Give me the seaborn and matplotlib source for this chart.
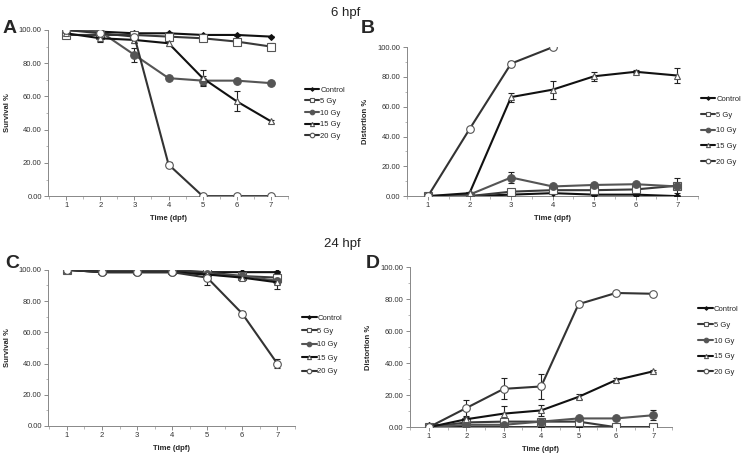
import numpy as np
import pandas as pd
import matplotlib.pyplot as plt
import seaborn as sns

days = [1, 2, 3, 4, 5, 6, 7]
groups = ['Control', '5 Gy', '10 Gy', '15 Gy', '20 Gy']

# A: survival, 6 hpf
surv6 = {
    'Control': [100, 99, 98, 98, 97, 97, 96],
    '5 Gy': [97, 97, 97, 96, 95, 93, 90],
    '10 Gy': [100, 99, 85, 71, 69.5, 69.5, 68],
    '15 Gy': [98, 95, 94, 92, 71, 57, 45],
    '20 Gy': [100, 98, 96, 19, 0, 0, 0],
}
surv6_err = {
    'Control': [0, 0, 1, 1, 0.5, 0.5, 0.5],
    '5 Gy': [0, 1, 1, 1, 1, 1.5, 2],
    '10 Gy': [0, 0.5, 4, 1, 2.5, 1, 1],
    '15 Gy': [0, 2, 2, 1.5, 5, 6, 1],
    '20 Gy': [0, 1, 1, 1.5, 0, 0, 0],
}
# B: distortion, 6 hpf
dist6 = {
    'Control': [0, 0, 1, 2, 1, 1, 0],
    '5 Gy': [0, 0, 3, 4, 4, 4.5, 7],
    '10 Gy': [0, 1, 12.5, 6.5, 7.5, 8, 6.5],
    '15 Gy': [0, 2, 66.5, 71.5, 80.5, 83.5, 81],
    '20 Gy': [0, 45, 89, 100, np.nan, np.nan, np.nan],
}
dist6_err = {
    'Control': [0, 0, 0.5, 0.5, 0.5, 0.5, 0.5],
    '5 Gy': [0, 0, 1, 1, 1, 1, 5],
    '10 Gy': [0, 0.5, 3.5, 1, 1, 1, 1],
    '15 Gy': [0, 1, 3, 6, 3, 1, 5],
    '20 Gy': [0, 1, 1.5, 0.5, 0, 0, 0],
}
# C: survival, 24 hpf
surv24 = {
    'Control': [100, 99, 99, 99, 98.5, 98.5, 98.5],
    '5 Gy': [100, 100, 100, 100, 98.5, 96, 95],
    '10 Gy': [100, 98.5, 98.5, 98.5, 97, 96, 93],
    '15 Gy': [100, 98.5, 98.5, 98.5, 97, 95, 92],
    '20 Gy': [100, 98.5, 98.5, 98.5, 95, 72, 40],
}
surv24_err = {
    'Control': [0, 0.5, 0.5, 0.5, 0.5, 0.5, 0.5],
    '5 Gy': [0, 0, 0, 0, 1, 1, 1],
    '10 Gy': [0, 1, 1, 1, 1, 1, 2],
    '15 Gy': [0, 1, 1, 1, 1.5, 1.5, 4],
    '20 Gy': [0, 1, 1, 1, 5, 1.5, 3],
}
# D: distortion, 24 hpf
dist24 = {
    'Control': [1.5, 0, 0, 0, 0, 0, 0],
    '5 Gy': [0, 3, 3.5, 3.5, 3.5, 0, 0],
    '10 Gy': [0, 1.5, 1.5, 3.5, 5.5, 5.5, 7.5],
    '15 Gy': [0, 5, 8.5, 10.5, 19, 29.5, 35],
    '20 Gy': [0, 12, 24, 25.5, 77, 84, 83.5],
}
dist24_err = {
    'Control': [0.5, 0, 0, 0, 0, 0, 0],
    '5 Gy': [0, 1, 1, 1, 1, 0, 0],
    '10 Gy': [0, 1, 1, 1, 1, 1, 3],
    '15 Gy': [0, 1.5, 5, 3.5, 1.5, 1.5, 0.5],
    '20 Gy': [0, 5, 6.5, 8, 0.5, 0.5, 0.5],
}

styles = {
    'Control': dict(color='#111111', marker='D', mfc='#111111', mec='#111111', ms=3),
    '5 Gy': dict(color='#3a3a3a', marker='s', mfc='white', mec='#555555', ms=5.5),
    '10 Gy': dict(color='#555555', marker='o', mfc='#555555', mec='#555555', ms=5.5),
    '15 Gy': dict(color='#111111', marker='^', mfc='white', mec='#555555', ms=5),
    '20 Gy': dict(color='#333333', marker='o', mfc='white', mec='#555555', ms=5.5),
}

sns.set_style('ticks')
plt.rcParams['font.family'] = ['Liberation Sans', 'DejaVu Sans']

fig = plt.figure(figsize=(7.41, 4.54), dpi=100)


def panel(rect, data, err, ylabel, xlim, letter, letter_pos, leg_x, leg_y, leg_sp):
    ax = fig.add_axes(rect)
    rows = []
    for g in groups:
        for d, v, e in zip(days, data[g], err[g]):
            rows.append({'day': d, 'value': v, 'err': e, 'group': g})
    df = pd.DataFrame(rows)
    for g in groups:
        sub = df[df['group'] == g]
        st = styles[g]
        ax.errorbar(sub['day'], sub['value'], yerr=sub['err'], fmt='none',
                    ecolor='#222222', elinewidth=0.8, capsize=2, capthick=0.8, zorder=2)
        sns.lineplot(data=sub, x='day', y='value', ax=ax, color=st['color'], lw=1.5,
                     marker=st['marker'], markersize=st['ms'], markerfacecolor=st['mfc'],
                     markeredgecolor=st['mec'], markeredgewidth=0.8, label=g,
                     errorbar=None, zorder=3)
    ax.set_xlim(*xlim)
    ax.set_ylim(0, 100)
    ax.set_xticks(days)
    ax.set_xticks(np.arange(0.5, 7.6, 0.5), minor=True)
    ax.set_yticks(np.arange(0, 101, 20))
    ax.set_yticks(np.arange(0, 101, 10), minor=True)
    ax.set_yticklabels([f'{v:.2f}' for v in range(0, 101, 20)])
    ax.tick_params(axis='both', which='major', labelsize=5.5, length=3, width=0.6,
                   color='#777777', labelcolor='#333333', pad=1.5)
    ax.tick_params(axis='both', which='minor', length=1.8, width=0.5, color='#999999')
    for s in ['top', 'right']:
        ax.spines[s].set_visible(False)
    for s in ['left', 'bottom']:
        ax.spines[s].set_color('#888888')
        ax.spines[s].set_linewidth(0.7)
    ax.set_xlabel('Time (dpf)', fontsize=5.5, fontweight='bold', labelpad=4)
    ax.set_ylabel(ylabel, fontsize=5.5, fontweight='bold', labelpad=6)
    ax.legend(loc='center left', bbox_to_anchor=(leg_x, leg_y), frameon=False,
              fontsize=5.5, handlelength=1.9, handletextpad=0.1, labelspacing=leg_sp,
              borderpad=0, borderaxespad=0, markerscale=0.6)
    fig.text(letter_pos[0], letter_pos[1], letter, fontsize=14, fontweight='bold',
             ha='left', va='center')
    return ax


panel([0.0648, 0.568, 0.324, 0.366], surv6, surv6_err, 'Survival %', (0.47, 7.14),
      'A', (0.004, 0.938), 1.07, 0.5, 0.55)
panel([0.549, 0.568, 0.393, 0.328], dist6, dist6_err, 'Distortion %', (0.49, 7.5),
      'B', (0.487, 0.938), 1.01, 0.44, 1.1)
panel([0.0648, 0.0617, 0.333, 0.344], surv24, surv24_err, 'Survival %', (0.46, 7.48),
      'C', (0.007, 0.42), 1.03, 0.52, 0.8)
panel([0.553, 0.059, 0.354, 0.352], dist24, dist24_err, 'Distortion %', (0.49, 7.5),
      'D', (0.493, 0.42), 1.1, 0.54, 1.1)

fig.text(0.467, 0.985, '6 hpf', fontsize=9.5, ha='center', va='top', color='#222222')
fig.text(0.462, 0.475, '24 hpf', fontsize=9.5, ha='center', va='top', color='#222222')

fig.savefig('out.png', dpi=100)
